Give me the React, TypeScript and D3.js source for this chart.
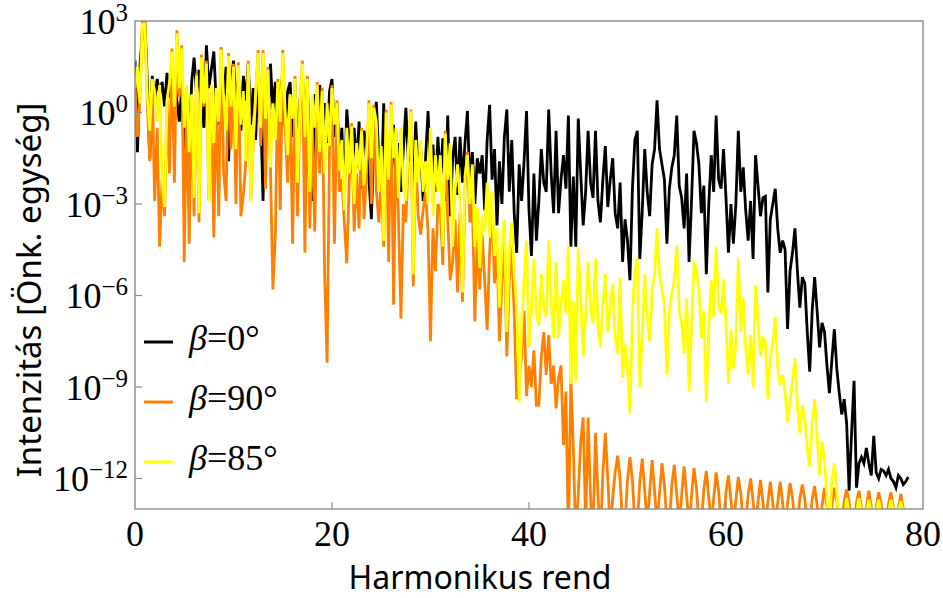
import React from "react";
import * as d3 from "d3";

// harmonic order step between samples
const STEP = 0.25;

// log10 of intensity, one value every 0.25 harmonic order
const beta0 = [
  1.7, -1.3, 1.5, 2.6, 3.0, 1.0, -1.5, 1.2, 0.4, 1.1, 0.6, 1.0, 0.2, 1.3, 0.5, 1.2,
  1.3, 0.4, -0.3, 0.8, -1.2, 0.5, -1.9, 1.0, 1.8, 0.6, 1.4, 0.2, -0.5, 2.2, 0.8, 1.4,
  2.0, 0.3, -0.4, 1.2, 0.5, 1.5, -1.6, 0.9, 1.7, 0.3, 1.1, -0.6, 1.2, 0.4, 1.6, -0.4,
  0.8, -0.9, 1.4, 0.2, -2.9, 0.9, -0.6, 1.6, 0.1, 1.0, -1.3, 0.6, 1.3, -0.5, 0.7, 1.0,
  -0.8, 0.9, -1.5, 0.4, 1.1, -0.3, 0.8, -1.0, -2.9, 0.6, -0.5, 0.9, 0.1, 0.3, -1.0, 0.7,
  1.1, -0.8, 0.3, -1.5, -0.5, -2.8, 0.1, -1.0, -2.0, -0.5, -1.8, -0.3, -2.5, -0.6, -1.2, -2.2,
  -3.5, -0.8, 0.35, -1.5, -2.8, 0.3, -1.9, -0.9, -2.2, -0.4, -2.4, -1.0, -2.6, -1.2, 0.15, -1.6,
  -0.8, -2.7, -0.3, -2.0, -1.2, -2.9, -1.5, 0.05, -1.8, -1.05, -2.6, -0.8, -2.2, -0.85, -2.9, -0.1,
  -3.4, -1.5, -0.8, -2.7, -0.8, -2.3, -1.0, 0.05, -2.4, -1.3, -3.0, -1.5, -2.0, -1.4, -3.2, -0.9,
  0.25, -2.2, -1.2, -3.7, -1.6, -3.0, -0.8, 0.1, -2.6, -0.9, -3.3, -4.6, -1.7, -2.9, -1.6, 0.05,
  -3.2, -4.7, -2.0, -4.2, -2.9, -1.2, -2.3, -2.6, 0.1, -2.0, -3.3, -0.6, -3.3, -2.2, -1.4, -2.5,
  -0.1, -4.4, -2.1, -4.4, -0.2, -2.0, -3.7, -2.6, -0.6, -2.3, -2.8, -0.6, -2.9, -3.6, -2.2, -1.1,
  -3.1, -2.2, -1.5, -3.3, -3.8, -2.3, -4.9, -3.5, -4.2, -5.5, -2.5, -0.9, -0.6, -4.8, -3.2, -1.2,
  -2.6, -3.4, -1.7, -1.2, 0.4, -1.2, -1.7, -2.2, -4.3, -2.5, -1.8, -1.4, -0.1, -2.4, -2.8, -3.8,
  -2.0, -4.9, -2.9, -0.6, -1.0, -1.7, -3.3, -2.4, -5.3, -3.0, -1.4, -2.6, -0.1, -2.2, -2.5, -1.2,
  -2.8, -4.6, -3.0, -4.3, -3.0, -0.6, -2.6, -1.8, -3.2, -4.2, -2.9, -4.8, -1.4, -2.4, -3.4, -2.8,
  -2.75, -5.9, -3.5, -3.0, -2.5, -3.8, -4.6, -4.2, -4.5, -7.1, -5.2, -4.6, -3.8, -5.2, -6.4, -5.4,
  -5.6, -7.2, -8.5, -6.5, -5.4, -6.5, -7.7, -6.9, -7.2, -8.3, -9.2, -8.1, -7.1, -8.4, -9.2, -9.9,
  -9.4, -10.2, -12.4, -10.5, -8.8, -12.3, -11.5, -11.3, -11.5, -11.0, -11.5, -11.9,
  -10.6, -11.8, -12.0, -11.7, -11.75, -11.9, -11.7, -12.0, -12.1, -12.3, -11.9, -12.0,
  -12.2, -12.1, -11.95,
];

const beta90 = [
  0.9, -0.8, 0.4, 3.0, 3.0, 0.3, -1.6, 1.0, -2.9, -0.5, -4.4, -2.2, -3.4, 0.4, -2.0, 2.1,
  -2.3, 2.7, 0.5, 2.2, -4.9, 0.7, -4.3, 0.5, -3.4, 1.3, -3.6, 1.9, 0.2, 1.7, -2.9, 0.8,
  -4.1, 0.7, -3.4, 2.15, -2.0, -2.9, 1.95, -1.2, 1.6, -3.0, 1.65, -3.4, -2.7, -1.6, 1.7, -2.9,
  -1.0, 0.5, 2.05, -1.1, 2.05, -2.5, 1.5, -1.8, -5.8, -4.0, 1.1, -3.2, 2.05, -0.5, -2.3, 0.5,
  -4.3, 1.2, -3.4, 0.2, 1.7, -4.6, 1.2, -3.8, -0.4, -3.9, 1.0, -2.0, 0.8, -5.3, -8.2, -1.2,
  0.9, -4.3, 0.4, -2.6, -2.2, -3.6, -4.95, -2.3, -0.35, -3.9, -2.0, -3.8, -0.5, -3.5, -2.1, 0.4,
  -3.0, 0.25, -2.5, -3.6, -2.3, -4.4, 0.1, -4.9, 0.35, -6.3, -0.6, -3.5, -6.75, -3.0, -3.6, -1.5,
  0.1, -5.7, -1.1, -3.4, -4.0, -3.2, -2.6, -3.9, -7.5, -3.8, -5.2, -3.0, -3.2, -5.0, -0.6, -3.5,
  -5.5, -4.9, -3.5, -5.9, -3.3, -6.2, -2.5, -1.3, -3.6, -2.8, -6.85, -4.0, -5.8, -4.0, -5.5, -7.13,
  -4.6, -3.1, -5.6, -4.5, -7.5, -5.6, -4.2, -8.0, -5.5, -4.4, -6.6, -9.4, -8.7, -8.0, -6.5, -9.3,
  -8.3, -9.0, -7.8, -9.6, -9.6, -8.0, -7.2, -8.6, -7.3, -8.9, -8.3, -9.7, -8.7, -8.3, -10.9, -9.15,
  -14.0, -8.7, -11.0, -14.0, -12.5, -10.8, -10.0, -13.5, -10.0, -12.6, -13.8, -10.5,
  -12.5, -14.0, -11.8, -10.5, -12.0, -13.8, -12.6, -11.8,
  -11.25, -12.04, -13.5, -13.5, -12.07, -11.3, -12.07, -13.5, -13.5, -12.1, -11.35, -12.43,
  -13.5, -12.45, -11.4, -12.45, -13.5, -12.5, -11.5, -12.2, -13.5, -13.5, -12.2, -11.55,
  -12.53, -13.5, -12.55, -11.6, -12.55, -13.5, -12.6, -11.65, -12.3, -13.5, -13.5, -12.35,
  -11.75, -12.63, -13.5, -12.65, -11.8, -12.4, -13.5, -13.5, -12.45, -11.9, -12.7, -13.5,
  -12.72, -11.95, -12.49, -13.5, -13.5, -12.52, -12.0, -12.75, -13.5, -12.77, -12.05, -12.78,
  -13.5, -12.8, -12.1, -12.8, -13.5, -12.8, -12.1, -12.8, -13.5, -12.82, -12.15, -12.62,
  -13.5, -13.5, -12.64, -12.2, -12.66, -13.5, -13.5, -12.68, -12.25, -12.88, -13.5, -12.9,
  -12.3, -12.9, -13.5, -12.9, -12.3, -12.72, -13.5, -13.5, -12.74, -12.35, -12.75, -13.5,
  -13.5, -12.77, -12.4, -12.95, -13.5, -12.95, -12.4, -12.95, -13.5, -12.95, -12.45, -12.82,
  -13.5, -13.5, -12.82, -12.45, -12.98, -13.5, -12.98, -12.5, -13.0, -13.5, -13.5,
];

const beta85 = [
  0.8, 1.5, 0.3, 2.9, 2.9, 0.5, -0.6, 1.1, 0.7, -0.3, 0.9, -2.2, -3.1, 0.4, 1.0, 2.0,
  0.2, 2.6, 0.8, 2.1, -0.5, 0.9, -1.3, 0.6, -2.8, 1.2, -3.3, 1.8, 0.3, 1.6, -2.9, 0.9,
  -1.0, 0.8, -0.3, 2.05, 0.5, -0.6, 1.85, 0.2, 1.5, -1.2, 1.55, -0.4, 0.7, -1.6, 1.6, -2.9,
  -0.9, 0.6, 1.95, -0.5, 1.95, -0.2, 1.4, -1.8, 0.3, -0.9, 1.0, -0.3, 1.95, 0.0, -1.4, 0.6,
  -0.2, 1.1, -2.3, 0.3, 1.6, -0.8, 1.1, -2.6, 0.6, -0.5, 0.9, -1.3, 0.7, -2.0, 0.3, -1.1,
  0.8, -0.4, 0.3, -1.9, -0.9, -3.2, -0.5, -2.0, -0.45, -3.0, -1.0, -1.9, -0.6, -2.4, -1.3, 0.3,
  -1.5, 0.15, -0.3, -2.6, -1.1, -4.2, 0.0, -2.2, 0.26, -1.5, -0.5, -2.8, -0.5, -2.4, -2.9, -1.2,
  0.04, -5.3, -0.9, -2.3, -0.9, -2.6, -1.6, -3.0, -0.5, -3.4, -1.4, -2.6, -1.4, -4.4, -0.7, -2.2,
  -1.0, -4.4, -2.5, -1.7, -2.9, -5.9, -2.1, -1.4, -3.0, -1.7, -4.4, -3.1, -5.1, -3.4, -3.9, -2.3,
  -4.1, -2.6, -4.7, -3.8, -6.4, -4.4, -3.5, -7.2, -4.6, -3.6, -5.3, -6.3, -9.5, -7.0, -5.5, -4.2,
  -7.7, -6.5, -4.8, -6.6, -7.0, -5.3, -6.4, -6.7, -4.2, -6.1, -7.4, -4.9, -7.4, -6.3, -5.5, -6.6,
  -4.35, -8.9, -6.2, -8.8, -4.45, -6.1, -7.95, -6.7, -4.9, -6.4, -6.9, -4.8, -7.0, -7.7, -6.3, -5.3,
  -7.2, -6.3, -5.6, -7.4, -7.9, -5.4, -8.7, -7.6, -8.3, -9.85, -6.6, -5.2, -4.8, -9.0, -7.3, -5.3,
  -6.7, -7.5, -5.8, -5.3, -3.8, -5.3, -5.8, -6.3, -8.6, -6.6, -5.9, -5.5, -4.35, -6.5, -6.9, -7.9,
  -6.1, -9.15, -7.0, -4.95, -5.1, -5.8, -7.4, -6.5, -9.5, -7.1, -5.5, -6.7, -4.4, -6.3, -6.6, -5.5,
  -6.9, -8.9, -7.1, -8.4, -7.6, -4.8, -7.2, -6.1, -7.7, -8.6, -7.3, -9.0, -5.65, -6.9, -8.0, -7.4,
  -7.5, -9.4, -8.0, -7.6, -6.7, -8.3, -8.95, -8.6, -9.2, -10.15, -9.5, -8.8, -8.05, -9.6, -10.5, -9.6,
  -10.0, -11.0, -11.6, -10.2, -9.4, -10.6, -11.9, -10.8, -11.4, -12.6, -13.8, -12.0,
  -11.5, -12.4, -13.8, -13.9, -13.4, -12.65, -13.1, -13.6, -13.6, -13.1, -12.65, -13.1,
  -13.6, -13.1, -12.7, -13.1, -13.6, -13.1, -12.7, -13.1, -13.6, -13.6, -13.1, -12.7,
  -13.1, -13.6, -13.1, -12.75, -13.1, -13.6, -13.6,
];

const series = [
  { label: "0", color: "#000000", values: beta0 },
  { label: "90", color: "#ff8000", values: beta90 },
  { label: "85", color: "#ffff00", values: beta85 },
];

const xTicks = [0, 20, 40, 60, 80];
const yTickExps = [3, 0, -3, -6, -9, -12];

const W = 943;
const H = 598;
const left = 135;
const right = 923;
const top = 21;
const bottom = 509;

const serif = '"Liberation Serif", "DejaVu Serif", "Times New Roman", serif';
const sans = '"Noto Sans", "Open Sans", sans-serif';

export default function App() {
  const x = d3.scaleLinear().domain([0, 80]).range([left, right]);
  const y = d3.scaleLog().domain([1e-13, 1e3]).range([bottom, top]);

  const line = d3
    .line<number>()
    .x((_, i) => x(i * STEP))
    .y((d) => y(Math.pow(10, d)));

  const fmtExp = (e: number) => (e < 0 ? "\u2212" + Math.abs(e) : String(e));

  return (
    <svg width={W} height={H} style={{ position: "absolute", left: 0, top: 0 }}>
      <rect width={W} height={H} fill="#fff" />
      <defs>
        <clipPath id="plot">
          <rect x={left} y={top} width={right - left} height={bottom - top} />
        </clipPath>
      </defs>

      <g clipPath="url(#plot)">
        {series.map((s) => (
          <path
            key={s.label}
            d={line(s.values) || ""}
            fill="none"
            stroke={s.color}
            strokeWidth={2.8}
          />
        ))}
      </g>

      {/* frame */}
      <rect
        x={left}
        y={top}
        width={right - left}
        height={bottom - top}
        fill="none"
        stroke="#8a8a8a"
        strokeWidth={1.4}
      />

      {/* y ticks */}
      {yTickExps.map((e) => {
        const ty = y(Math.pow(10, e));
        return (
          <g key={e}>
            {e !== 3 && <line x1={left} x2={left + 7} y1={ty} y2={ty} stroke="#8a8a8a" strokeWidth={1.2} />}
            <text x={128} y={ty + 12.5} textAnchor="end" style={{ fontFamily: serif, fontSize: 36 }} fill="#000">
              <tspan>10</tspan>
              <tspan dy={-13} style={{ fontSize: 25 }}>
                {fmtExp(e)}
              </tspan>
            </text>
          </g>
        );
      })}

      {/* x ticks */}
      {xTicks.map((t) => (
        <g key={t}>
          {t > 0 && t < 80 && (
            <line x1={x(t)} x2={x(t)} y1={bottom} y2={bottom - 7} stroke="#8a8a8a" strokeWidth={1.2} />
          )}
          <text x={x(t)} y={546} textAnchor="middle" style={{ fontFamily: serif, fontSize: 36 }} fill="#000">
            {t}
          </text>
        </g>
      ))}

      {/* axis titles */}
      <text x={480} y={589} textAnchor="middle" style={{ fontFamily: sans, fontSize: 32 }} fill="#000">
        Harmonikus rend
      </text>
      <text
        transform="translate(41, 290) rotate(-90)"
        textAnchor="middle"
        style={{ fontFamily: sans, fontSize: 33 }}
        fill="#000"
      >
        Intenzitás [Önk. egység]
      </text>

      {/* legend */}
      {series.map((s, i) => {
        const ly = 342 + i * 60;
        return (
          <g key={"lg" + s.label}>
            <line x1={144} x2={173} y1={ly} y2={ly} stroke={s.color} strokeWidth={3} />
            <text x={189} y={ly + 8} style={{ fontFamily: serif, fontSize: 36 }} fill="#000">
              <tspan style={{ fontStyle: "italic" }}>β</tspan>
              <tspan>={s.label}°</tspan>
            </text>
          </g>
        );
      })}
    </svg>
  );
}
